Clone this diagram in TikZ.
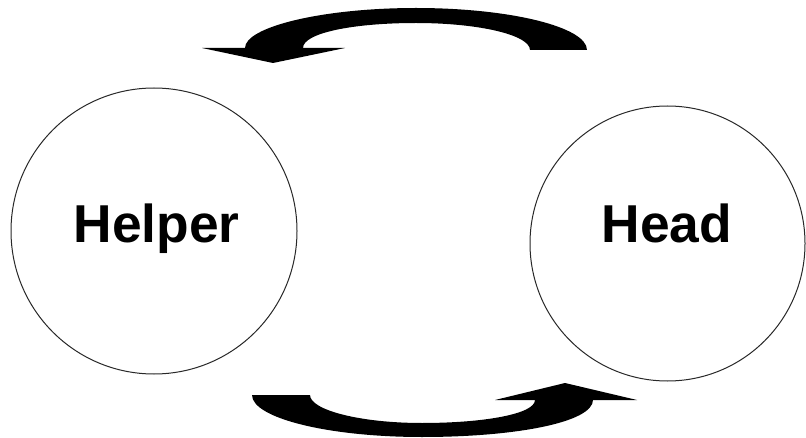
\documentclass[tikz,border=0pt]{standalone}
\usepackage{fontspec}
\setmainfont{Liberation Sans}
\begin{document}
\begin{tikzpicture}[x=0.75pt,y=0.75pt,yscale=-1,xscale=1]
\tikzset{
  party/.style={circle, draw={rgb, 255:red, 40; green, 40; blue, 40 }, line width=0.75pt, inner sep=0pt},
  partyname/.style={anchor=base, inner sep=0.75pt, font=\fontsize{40}{48}\selectfont\bfseries},
  swap/.style={fill=black, draw=none}
}
\useasboundingbox (0,0) rectangle (806,438);

%Shape: Circle [id:helper]
\draw (154,231) node [party, minimum size=214.5pt] (helper) {};
%Shape: Circle [id:head]
\draw (667.5,243.5) node [party, minimum size=206.25pt] (head) {};

%Shape: Curved Arrow [id:top]
\fill [swap] (587,50) .. controls (587,27) and (510,8) .. (416,8) .. controls (322,8) and (245,27) .. (245,48) -- (202,48) -- (273,63) -- (345,48) -- (303,48) .. controls (303,33) and (353,23) .. (416,23) .. controls (479,23) and (530,35) .. (530,50) -- cycle ;
%Shape: Curved Arrow [id:bottom]
\fill [swap] (252,395) -- (310,395) .. controls (310,410) and (360,423) .. (422,423) .. controls (484,423) and (535,414) .. (535,400) -- (495,400) -- (565,383) -- (637,400) -- (593,400) .. controls (593,422) and (517,437) .. (422,437) .. controls (328,437) and (252,418) .. (252,395) -- cycle ;

% Text Node
\draw (156.5,243) node [partyname] (helpername) {Helper};
% Text Node
\draw (667,243) node [partyname] (headname) {Head};

\end{tikzpicture}
\end{document}
